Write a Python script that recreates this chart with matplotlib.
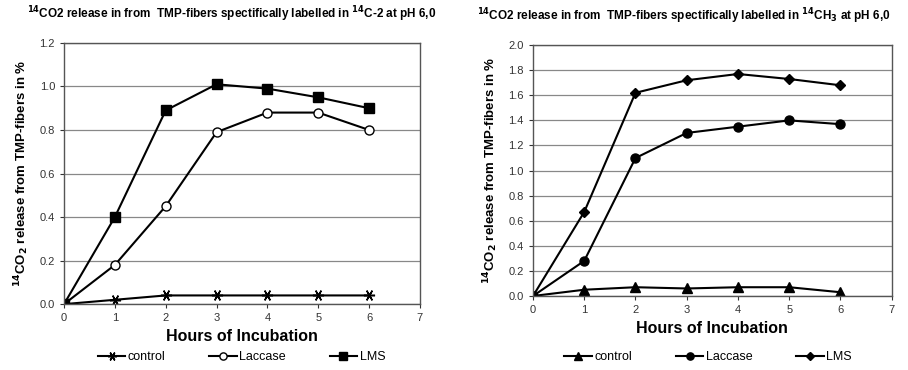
import matplotlib
matplotlib.use("Agg")
import matplotlib.pyplot as plt

plt.rcParams['font.family'] = ['Liberation Sans', 'DejaVu Sans']

hours = [0, 1, 2, 3, 4, 5, 6]

left_control = [0, 0.02, 0.04, 0.04, 0.04, 0.04, 0.04]
left_laccase = [0, 0.18, 0.45, 0.79, 0.88, 0.88, 0.80]
left_lms = [0, 0.40, 0.89, 1.01, 0.99, 0.95, 0.90]

right_control = [0, 0.05, 0.07, 0.06, 0.07, 0.07, 0.03]
right_laccase = [0, 0.28, 1.10, 1.30, 1.35, 1.40, 1.37]
right_lms = [0, 0.67, 1.62, 1.72, 1.77, 1.73, 1.68]

left_yticks = [0.0, 0.2, 0.4, 0.6, 0.8, 1.0, 1.2]
right_yticks = [0.0, 0.2, 0.4, 0.6, 0.8, 1.0, 1.2, 1.4, 1.6, 1.8, 2.0]
xticks = [0, 1, 2, 3, 4, 5, 6, 7]

left_title = r"$\mathbf{^{14}}$CO2 release in from  TMP-fibers spectifically labelled in $\mathbf{^{14}}$C-2 at pH 6,0"
right_title = r"$\mathbf{^{14}}$CO2 release in from  TMP-fibers spectifically labelled in $\mathbf{^{14}}$CH$\mathbf{_3}$ at pH 6,0"
ylabel = r"$\mathbf{^{14}}$CO$\mathbf{_2}$ release from TMP-fibers in %"
xlabel = "Hours of Incubation"

fig = plt.figure(figsize=(9.08, 3.70), dpi=100)
ax1 = fig.add_axes([0.0705, 0.178, 0.392, 0.706])
ax2 = fig.add_axes([0.587, 0.200, 0.395, 0.678])

def style(ax, yticks, ymax):
    ax.set_xlim(0, 7)
    ax.set_ylim(0, ymax)
    ax.set_xticks(xticks)
    ax.set_yticks(yticks)
    ax.set_yticklabels([f"{v:.1f}" for v in yticks])
    ax.yaxis.grid(True, color='#888888', lw=0.9)
    ax.set_axisbelow(True)
    for s in ax.spines.values():
        s.set_color('#555555')
        s.set_linewidth(1.0)
    ax.tick_params(axis='both', labelsize=8, colors='#333333', length=3, width=0.8)
    ax.set_xlabel(xlabel, fontsize=11.5, fontweight='bold', labelpad=4)
    ax.set_ylabel(ylabel, fontsize=9.5, fontweight='bold', labelpad=6)

lw = 1.5
ax1.plot(hours, left_control, color='black', lw=lw, marker=(6, 2, 90), ms=8, mew=1.1, label='control')
ax1.plot(hours, left_laccase, color='black', lw=lw, marker='o', ms=6.5, mfc='white', mew=1.0, label='Laccase')
ax1.plot(hours, left_lms, color='black', lw=lw, marker='s', ms=6.5, label='LMS')
style(ax1, left_yticks, 1.2)
ax1.set_title(left_title, fontsize=8.5, fontweight='bold', pad=18, x=0.47)
fig.legend(handles=ax1.get_lines(), loc='center', bbox_to_anchor=(0.266, 0.035), ncol=3, frameon=False,
           fontsize=9, handlelength=2.2, columnspacing=3.5, handletextpad=0.2, borderaxespad=0,
           markerscale=0.8)

ax2.plot(hours, right_control, color='black', lw=lw, marker='^', ms=6.5, label='control')
ax2.plot(hours, right_laccase, color='black', lw=lw, marker='o', ms=6.5, label='Laccase')
ax2.plot(hours, right_lms, color='black', lw=lw, marker='D', ms=5, label='LMS')
style(ax2, right_yticks, 2.0)
ax2.set_title(right_title, fontsize=8.5, fontweight='bold', pad=18, x=0.42)
fig.legend(handles=ax2.get_lines(), loc='center', bbox_to_anchor=(0.78, 0.035), ncol=3, frameon=False,
           fontsize=9, handlelength=2.2, columnspacing=3.5, handletextpad=0.2, borderaxespad=0,
           markerscale=0.8)

fig.savefig("out.png", dpi=100)
